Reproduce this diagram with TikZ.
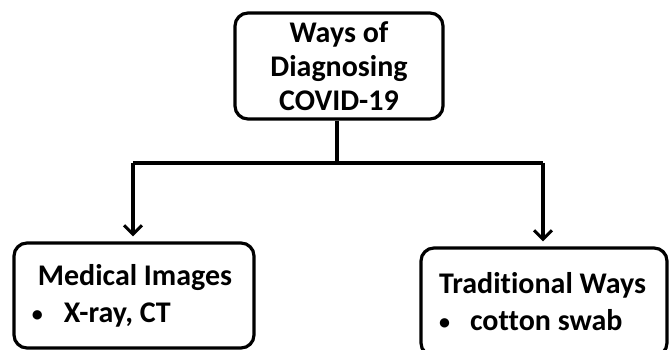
\documentclass[tikz,border=0pt]{standalone}
\usepackage{fontspec}
\setmainfont{Carlito}[Ligatures=NoCommon]
\usetikzlibrary{arrows.meta}
\newcommand{\bul}{\makebox[0pt][l]{\raisebox{1pt}{\fontsize{22}{22}\selectfont\textbullet}}}
\begin{document}
\begin{tikzpicture}[x=1pt,y=-1pt,
  box/.style={draw=black,line width=3.2pt,rounded corners=13pt,inner sep=0pt,font=\bfseries\fontsize{30}{37}\selectfont},
  conn/.style={line width=3.2pt},
  arr/.style={conn,-{Straight Barb[length=9pt,width=18pt,line width=3pt]}}]
\useasboundingbox (0,0) rectangle (672,350);
\node[box,minimum width=208pt,minimum height=106pt,align=center,font=\bfseries\fontsize{30}{34}\selectfont] (top) at (339,66) {Ways of\\Diagnosing\\COVID-19};
\node[box,minimum width=240pt,minimum height=105pt,align=left] (left) at (134,295.5)
  {\hspace*{6pt}Medical Images\hspace*{4pt}\\\bul\hspace*{32pt}X-ray, CT};
\node[box,minimum width=246pt,minimum height=108pt,align=left] (right) at (544,302)
  {Traditional Ways\hspace*{3pt}\\\bul\hspace*{31pt}cotton swab};
\coordinate (j) at (337,163);
\coordinate (jl) at (133,163);
\coordinate (jr) at (543,163);
\draw[conn] (top.south -| j) -- (j);
\draw[conn] (jl) -- (jr);
\draw[arr] (jl) -- (jl |- left.north) [shorten >=5pt];
\draw[arr] (jr) -- (jr |- right.north) [shorten >=5pt];
\end{tikzpicture}
\end{document}
